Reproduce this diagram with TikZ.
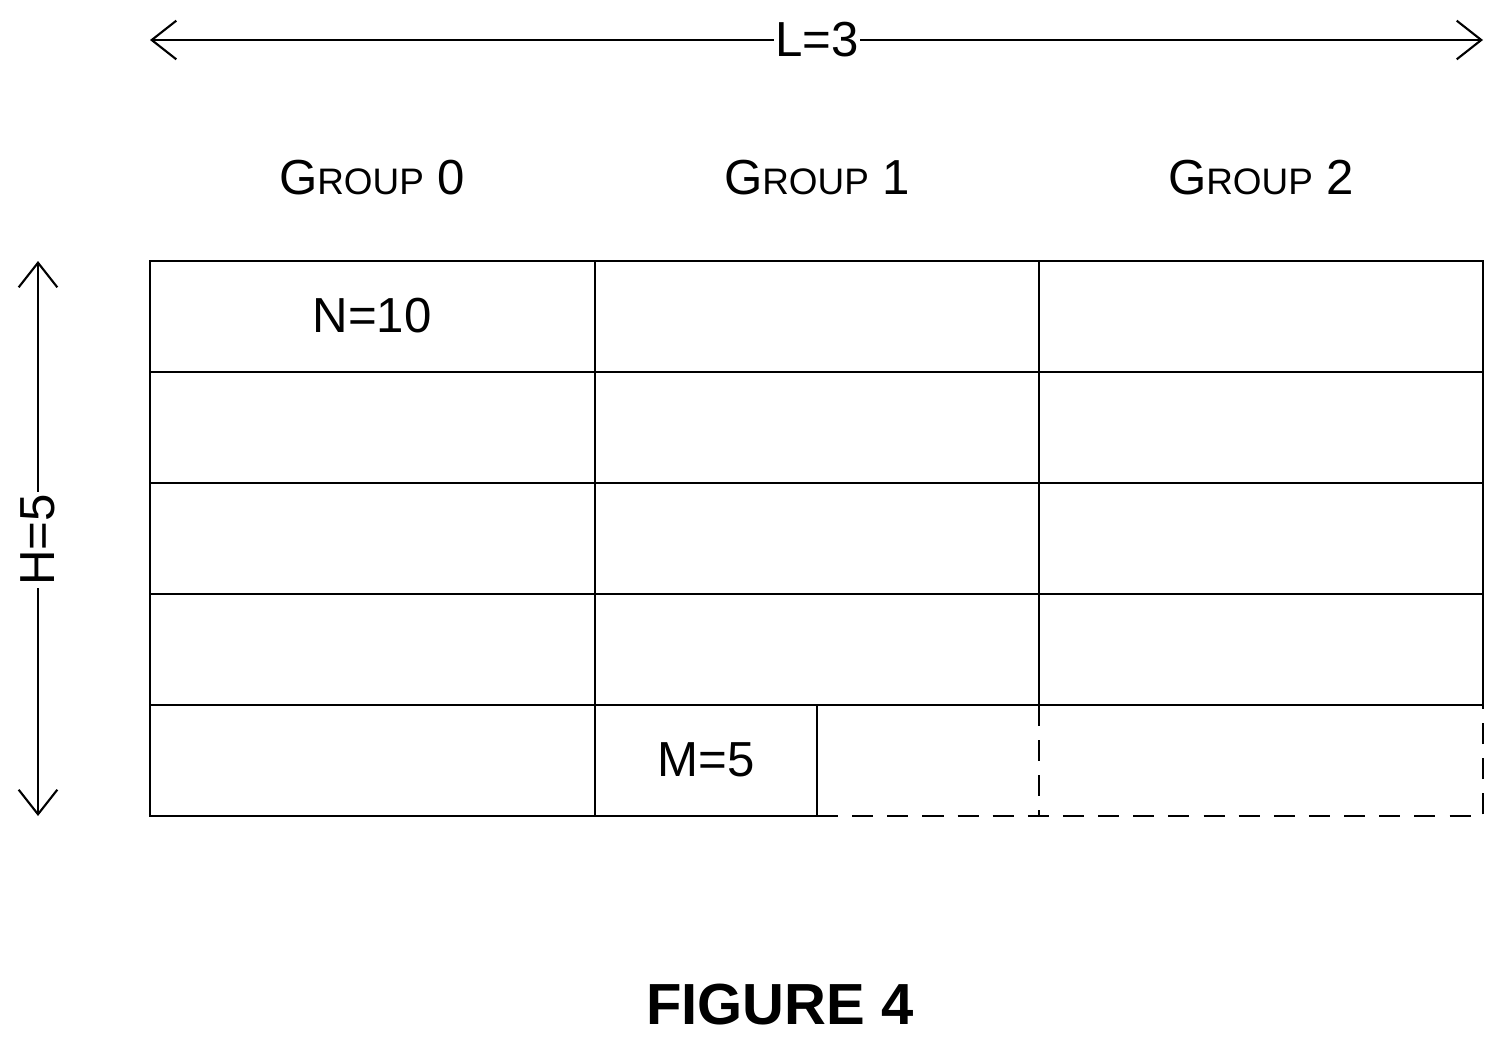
\documentclass[tikz,border=0pt]{standalone}
\usepackage{fontspec}
\setmainfont{Liberation Sans}
\usetikzlibrary{arrows.meta}
\newcommand{\grp}[1]{\fontsize{28}{30}\selectfont G{\fontsize{21}{24}\selectfont ROUP}\ #1}
\begin{document}
\begin{tikzpicture}[x=0.02cm,y=-0.02cm,
  ln/.style={line width=1.4pt},
  dl/.style={line width=1.4pt,dash pattern=on 12pt off 8pt},
  dim/.style={line width=1.2pt,{Straight Barb[length=14pt,width=22pt]}-{Straight Barb[length=14pt,width=22pt]}},
  lbl/.style={font=\fontsize{28}{30}\selectfont,inner sep=1pt}]
\useasboundingbox (0,0) rectangle (1505,1045);
% grid
\draw[ln] (150,261) rectangle (1483,705);
\foreach \y in {372,483,594} \draw[ln] (150,\y) -- (1483,\y);
\draw[ln] (595,261) -- (595,816);
\draw[ln] (1039,261) -- (1039,705);
\draw[ln] (150,705) -- (150,816) -- (817,816) -- (817,705);
\draw[dl] (817,816) -- (1483,816) -- (1483,705);
\draw[dl] (1039,705) -- (1039,816);
% labels
\node[lbl] (n10) at (372,316) {N=10};
\node[lbl] (m5) at (706,760) {M=5};
\node (g0) at (372,178) {\grp{0}};
\node (g1) at (817,178) {\grp{1}};
\node (g2) at (1261,178) {\grp{2}};
% dimension arrows
\coordinate (la) at (150,40); \coordinate (lb) at (1483,40);
\draw[dim] (la) -- (lb);
\node[lbl,fill=white] (L) at (817,40) {L=3};
\coordinate (ha) at (38,261); \coordinate (hb) at (38,816);
\draw[dim] (ha) -- (hb);
\node[lbl,fill=white,rotate=90] (H) at (38,540) {H=5};
\node[font=\bfseries\fontsize{33}{36}\selectfont] (fig) at (780,1005) {FIGURE 4};
\end{tikzpicture}
\end{document}
